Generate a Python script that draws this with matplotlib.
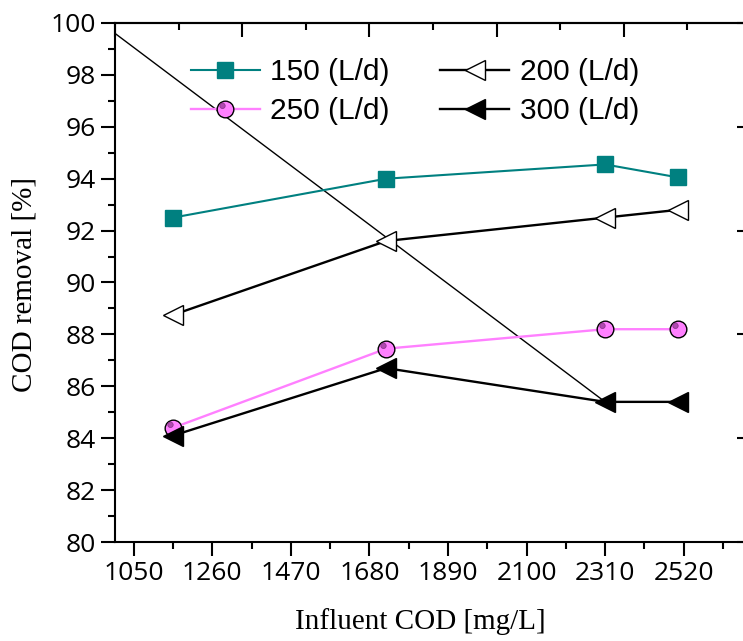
import matplotlib
matplotlib.use("Agg")
import matplotlib.pyplot as plt
import numpy as np
from matplotlib.path import Path
from matplotlib.ticker import MultipleLocator, FixedLocator, NullFormatter
from matplotlib.legend_handler import HandlerTuple

# ---- data ----
influent_cod = [1155, 1725, 2310, 2505]
q150 = [92.5, 94.0, 94.55, 94.05]
q200 = [88.75, 91.6, 92.5, 92.8]
q250 = [84.4, 87.45, 88.2, 88.2]
q300 = [84.1, 86.7, 85.4, 85.4]
diag_x = [1000, 2310]
diag_y = [99.6, 85.4]

series_labels = ["150 (L/d)", "200 (L/d)", "250 (L/d)", "300 (L/d)"]
xticks = [1050, 1260, 1470, 1680, 1890, 2100, 2310, 2520]
yticks = [80, 82, 84, 86, 88, 90, 92, 94, 96, 98, 100]

W, H = 743, 641
fig = plt.figure(figsize=(W / 100, H / 100), dpi=100)
ax_l, ax_r, ax_b, ax_t = 115, 751, 542, 23
ax = fig.add_axes([ax_l / W, 1 - ax_b / H, (ax_r - ax_l) / W, (ax_b - ax_t) / H])
ax.set_xlim(1000, 2700)
ax.set_ylim(80, 100)

teal = "#008080"
pink = "#FF80FF"

ax.plot(diag_x, diag_y, color="black", lw=1.0, zorder=2)

l150, = ax.plot(influent_cod, q150, color=teal, lw=1.5, marker="s", ms=11,
                mfc=teal, mec=teal, zorder=3)
l200, = ax.plot(influent_cod, q200, color="black", lw=1.7, marker="<", ms=15,
                mfc="white", mec="black", mew=1.0, zorder=3)
l250, = ax.plot(influent_cod, q250, color=pink, lw=1.7, marker="o", ms=12,
                mfc=pink, mec="black", mew=1.0, zorder=3)
# highlight dot inside the pink spheres
dot_path = Path.make_compound_path(
    Path([(-0.5, -0.5), (0.5, 0.5)], [Path.MOVETO, Path.MOVETO]),
    Path.circle(center=(-0.18, 0.22), radius=0.16),
)
l250d, = ax.plot(influent_cod, q250, ls="none", marker=dot_path, ms=12,
                 mfc="#B048B0", mec="#8E368E", mew=0.6, zorder=4)
l300, = ax.plot(influent_cod, q300, color="black", lw=1.7, marker="<", ms=15,
                mfc="black", mec="black", zorder=3)

leg_x, leg_top = 191, 58
leg = ax.legend([l150, (l250, l250d), l200, l300],
                [series_labels[0], series_labels[2], series_labels[1], series_labels[3]],
                ncol=2, loc="upper left",
                bbox_to_anchor=(leg_x / W, 1 - leg_top / H), bbox_transform=fig.transFigure,
                frameon=False, prop={"family": "Liberation Sans", "size": 21.5},
                handlelength=2.3, handletextpad=0.35, columnspacing=1.7,
                labelspacing=0.38, borderaxespad=0, borderpad=0,
                handler_map={tuple: HandlerTuple(ndivide=1, pad=0)})

# spines & ticks
for s in ax.spines.values():
    s.set_linewidth(1.5)
ax.xaxis.set_major_locator(FixedLocator(xticks))
ax.xaxis.set_minor_locator(MultipleLocator(105, offset=0))
ax.yaxis.set_major_locator(FixedLocator(yticks))
ax.yaxis.set_minor_locator(MultipleLocator(1))
ax.tick_params(axis="both", which="major", direction="out", length=10, width=1.5,
               labelsize=19, pad=4)
ax.tick_params(axis="both", which="minor", direction="out", length=5, width=1.5)
ax.tick_params(top=False, right=False, which="both")
for lab in ax.get_xticklabels() + ax.get_yticklabels():
    lab.set_fontfamily("Open Sans")

# top axis ticks (no labels)
axt = ax.secondary_xaxis("top")
axt.xaxis.set_major_locator(FixedLocator([1000, 1340, 1680, 2020, 2360, 2700]))
axt.xaxis.set_minor_locator(FixedLocator([1170, 1510, 1850, 2190, 2530]))
axt.xaxis.set_major_formatter(NullFormatter())
axt.tick_params(which="major", direction="in", length=10, width=1.5)
axt.tick_params(which="minor", direction="in", length=5, width=1.5)
axt.spines["top"].set_linewidth(1.5)

# right axis ticks
axr = ax.secondary_yaxis("right")
axr.yaxis.set_major_locator(FixedLocator([80, 84, 88, 92, 96, 100]))
axr.yaxis.set_minor_locator(FixedLocator([82, 86, 90, 94, 98]))
axr.yaxis.set_major_formatter(NullFormatter())
axr.tick_params(which="major", direction="in", length=10, width=1.5)
axr.tick_params(which="minor", direction="in", length=5, width=1.5)

ax.set_xlabel("Influent COD [mg/L]", family="Liberation Serif", fontsize=21)
ax.set_ylabel("COD removal [%]", family="Liberation Serif", fontsize=21)
ax.xaxis.set_label_coords((420 - ax_l) / (ax_r - ax_l), -(622 - ax_b) / (ax_b - ax_t), transform=ax.transAxes)
ax.yaxis.set_label_coords(-(ax_l - 24) / (ax_r - ax_l), (ax_b - 285) / (ax_b - ax_t), transform=ax.transAxes)
ax.xaxis.label.set_va("center")
ax.yaxis.label.set_va("center")

fig.savefig("out.png", dpi=100)
